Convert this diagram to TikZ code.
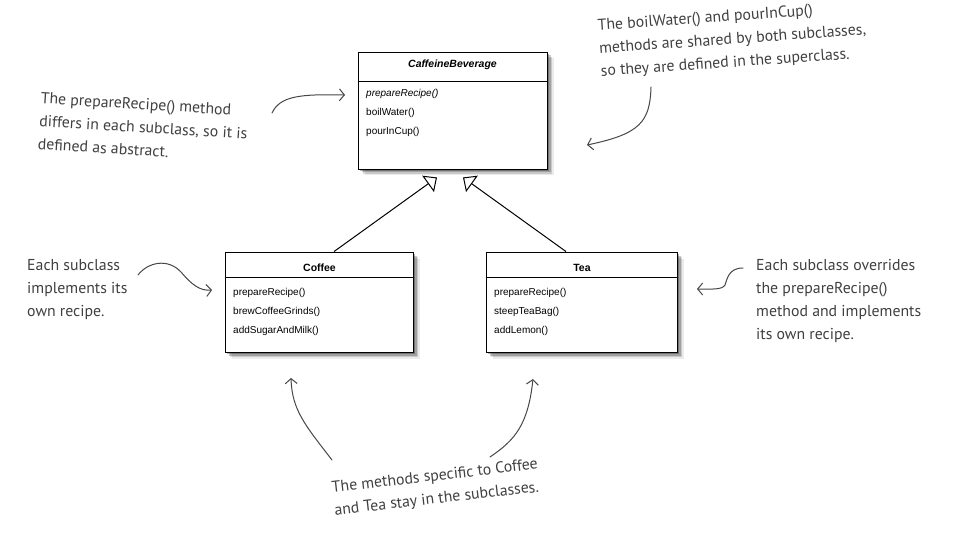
\documentclass[tikz,border=0pt]{standalone}
\usepackage{fontspec}
\setmainfont{Liberation Sans}
\newfontfamily\hand{PT Sans}
\usetikzlibrary{arrows.meta,shadows}
\tikzset{
  classbox/.style={rectangle, draw=black, line width=0.9pt, fill=white, inner sep=0pt,
    drop shadow={shadow xshift=6.5pt,shadow yshift=-6.5pt,opacity=.08,fill=black},
    drop shadow={shadow xshift=5pt,shadow yshift=-5pt,opacity=.14,fill=black},
    drop shadow={shadow xshift=3.5pt,shadow yshift=-3.5pt,opacity=.2,fill=black},
    drop shadow={shadow xshift=2pt,shadow yshift=-2pt,opacity=.28,fill=black}},
  ctitle/.style={font=\fontsize{10.5}{12}\selectfont\bfseries, inner sep=0pt},
  meth/.style={font=\fontsize{10}{12}\selectfont, anchor=west, inner sep=0pt},
  note/.style={font=\hand\fontsize{15.8}{23}\selectfont, text=black!75, align=left, anchor=north west, inner sep=0pt},
  handarrow/.style={draw=black!72, line width=1pt, line cap=round, line join=round, -{Straight Barb[length=5pt,width=12pt]}},
  inherit/.style={draw=black, line width=1pt, -{Triangle[open,length=11pt,width=20pt,fill=white]}},
  sep/.style={draw=black, line width=0.8pt}
}
\begin{document}
\begin{tikzpicture}[x=1pt,y=-1pt]
\useasboundingbox[fill=white] (0,0) rectangle (960,545);

% class boxes
\node[classbox, minimum width=189pt, minimum height=117pt] (cb) at (452.5,110.5) {};
\node[classbox, minimum width=188pt, minimum height=100pt] (coffee) at (319,302) {};
\node[classbox, minimum width=191pt, minimum height=100pt] (tea) at (581.5,302) {};

\draw[sep] ([yshift=-29.5pt]cb.north west) -- ([yshift=-29.5pt]cb.north east);
\draw[sep] ([yshift=-26pt]coffee.north west) -- ([yshift=-26pt]coffee.north east);
\draw[sep] ([yshift=-26pt]tea.north west) -- ([yshift=-26pt]tea.north east);

\node[ctitle, font=\fontsize{10.5}{12}\selectfont\bfseries\itshape] (cbt) at (452.5,64.5) {CaffeineBeverage};
\node[meth, font=\fontsize{10}{12}\selectfont\itshape] (cbm1) at (366,94) {prepareRecipe()};
\node[meth] (cbm2) at (366,113) {boilWater()};
\node[meth] (cbm3) at (366,132) {pourInCup()};

\node[ctitle] (cft) at (319.5,268) {Coffee};
\node[meth] (cfm1) at (233,293) {prepareRecipe()};
\node[meth] (cfm2) at (233,312) {brewCoffeeGrinds()};
\node[meth] (cfm3) at (233,331) {addSugarAndMilk()};

\node[ctitle] (tt) at (582,268) {Tea};
\node[meth] (tm1) at (494,293) {prepareRecipe()};
\node[meth] (tm2) at (494,312) {steepTeaBag()};
\node[meth] (tm3) at (494,331) {addLemon()};

% inheritance
\draw[inherit] ([xshift=15pt]coffee.north) -- ([xshift=-15.5pt,yshift=-8pt]cb.south);
\draw[inherit] ([xshift=-15.5pt]tea.north) -- ([xshift=10.5pt,yshift=-8pt]cb.south);

% notes
\node[note, rotate=-3.5] (n1) at (41,92) {The prepareRecipe() method\\differs in each subclass, so it is\\defined as abstract.};
\node[note, rotate=4] (n2) at (597,19) {The boilWater() and pourInCup()\\methods are shared by both subclasses,\\so they are defined in the superclass.};
\node[note] (n3) at (27,259) {Each subclass\\implements its\\own recipe.};
\node[note] (n4) at (756,259) {Each subclass overrides\\the prepareRecipe()\\method and implements\\its own recipe.};
\node[note, rotate=6.5] (n5) at (331,481) {The methods specific to Coffee\\and Tea stay in the subclasses.};

% hand-drawn arrows
\coordinate (a1s) at (272,113); \coordinate (a1e) at (345,95);
\coordinate (a2s) at (651,87);  \coordinate (a2e) at (587,145);
\coordinate (a3s) at (138,275); \coordinate (a3e) at (212,290);
\coordinate (a4s) at (743,268); \coordinate (a4e) at (697,289);
\coordinate (a5s) at (332,460); \coordinate (a5e) at (291,378);
\coordinate (a6s) at (490,457); \coordinate (a6e) at (533,379);

\draw[handarrow] (a1s) .. controls (280,96) and (300,94) .. (a1e);
\draw[handarrow] (a2s) .. controls (650,122) and (640,134) .. (a2e);
\draw[handarrow] (a3s) .. controls (148,262) and (168,258) .. (181,272) .. controls (192,285) and (200,291) .. (a3e);
\draw[handarrow] (a4s) .. controls (728,268) and (727,280) .. (725,285) .. controls (722,290) and (712,289) .. (a4e);
\draw[handarrow] (a5s) .. controls (305,425) and (292,410) .. (a5e);
\draw[handarrow] (a6s) .. controls (515,440) and (528,425) .. (a6e);
\end{tikzpicture}
\end{document}
